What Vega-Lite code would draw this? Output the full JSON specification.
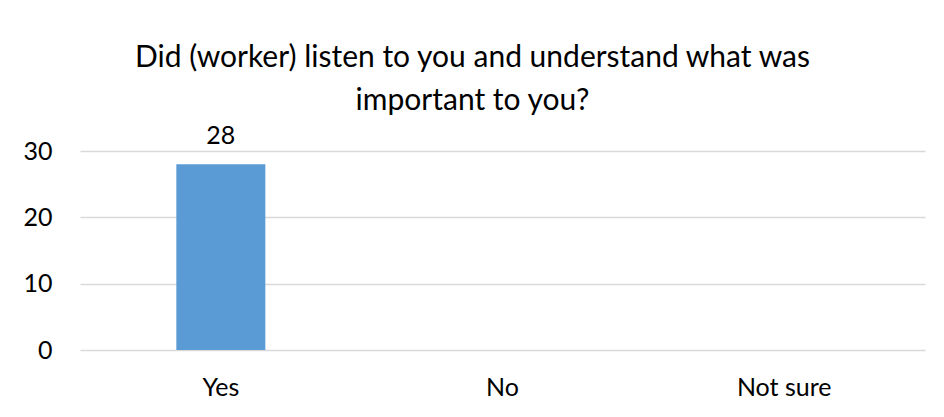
{
  "$schema": "https://vega.github.io/schema/vega-lite/v6.json",
  "width": 845,
  "height": 199,
  "autosize": {"type": "none"},
  "padding": {"left": 80, "top": 151, "right": 19, "bottom": 67},
  "background": "white",
  "title": {
    "text": ["Did (worker) listen to you and understand what was", "important to you?"],
    "font": "Lato",
    "fontSize": 30,
    "fontWeight": "normal",
    "color": "#000000",
    "lineHeight": 43,
    "anchor": "middle",
    "dx": -30,
    "offset": 8,
    "frame": "group"
  },
  "data": {
    "values": [
      {"answer": "Yes", "count": 28},
      {"answer": "No", "count": null},
      {"answer": "Not sure", "count": null}
    ]
  },
  "encoding": {
    "x": {
      "field": "answer",
      "type": "nominal",
      "sort": null,
      "scale": {"domain": ["Yes", "No", "Not sure"], "paddingInner": 0.684, "paddingOuter": 0.342},
      "axis": {
        "title": null,
        "labelAngle": 0,
        "labelFont": "Lato",
        "labelFontSize": 25,
        "labelColor": "#000000",
        "labelPadding": 25,
        "ticks": false,
        "domain": false,
        "grid": false
      }
    },
    "y": {
      "field": "count",
      "type": "quantitative",
      "scale": {"domain": [0, 30], "nice": false},
      "axis": {
        "title": null,
        "values": [0, 10, 20, 30],
        "labelFont": "Lato",
        "labelFontSize": 25,
        "labelColor": "#000000",
        "labelPadding": 28,
        "ticks": false,
        "domain": false,
        "grid": true,
        "gridColor": "#d9d9d9",
        "gridWidth": 1.5
      }
    }
  },
  "layer": [
    {"mark": {"type": "bar", "color": "#5b9bd5"}},
    {
      "mark": {"type": "text", "font": "Lato", "fontSize": 25, "color": "#000000", "baseline": "alphabetic", "dy": -20},
      "encoding": {"text": {"field": "count", "type": "quantitative"}}
    }
  ],
  "config": {"view": {"stroke": null}}
}
